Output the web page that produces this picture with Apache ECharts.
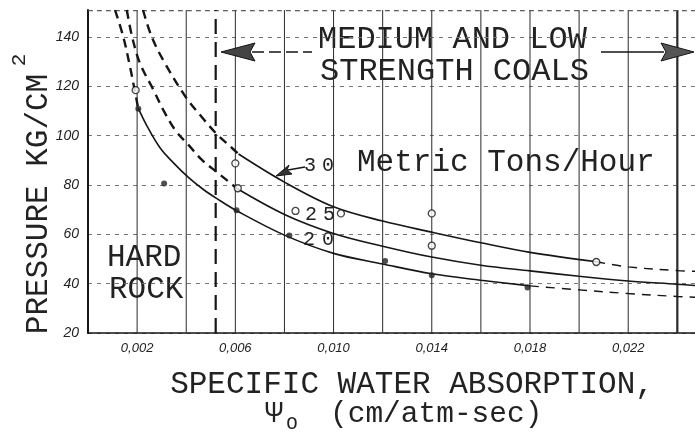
<!DOCTYPE html>
<html><head><meta charset="utf-8">
<script src="https://cdn.jsdelivr.net/npm/echarts@6/dist/echarts.min.js"></script>
<style>html,body{margin:0;padding:0;background:#fff}#c{width:695px;height:434px}</style>
</head><body><div id="c"></div>
<script>
// ---- axis ticks ----
const xGrid = [0.002, 0.004, 0.006, 0.008, 0.010, 0.012, 0.014, 0.016, 0.018, 0.020, 0.022, 0.024];
const xTicks = [0.002, 0.006, 0.010, 0.014, 0.018, 0.022];
const xTickLabels = ['0,002', '0,006', '0,010', '0,014', '0,018', '0,022'];
const yTicks = [20, 40, 60, 80, 100, 120, 140];

// ---- curve 20 t/h ----
const x20 = [0.00110,0.00144,0.00171,0.00192,0.00204,0.0024,0.00294,0.00348,0.0041,0.0047,0.00525,0.00607,0.008,0.010,0.012,0.014,0.016,0.018,0.020,0.022,0.024,0.0248];
const p20 = [151,140,128,117.5,111.3,104,95.0,89.0,83.0,78.2,74.5,69.5,59.7,52.3,48.0,44.0,41.4,39.1,37.5,36.0,34.8,34.5];
// ---- curve 25 t/h ----
const x25 = [0.00158,0.0018,0.00212,0.00267,0.00307,0.00355,0.0041,0.00464,0.00525,0.0058,0.00607,0.008,0.010,0.012,0.014,0.016,0.018,0.020,0.022,0.024,0.0248];
const p25 = [151,140,129.3,118.5,110.4,102.3,96.2,90.2,85.2,80.8,78.6,68.1,60.4,55.2,50.8,47.5,45.2,43.0,41.1,39.8,39.2];
// ---- curve 30 t/h ----
const x30 = [0.00224,0.0026,0.0031,0.00396,0.0047,0.00525,0.0058,0.00613,0.008,0.010,0.012,0.014,0.016,0.018,0.0207,0.022,0.024,0.0248];
const p30 = [151,140,130,116,106.8,100.6,95.6,92.6,81.2,71.2,65.4,60.9,56.6,52.7,48.9,46.8,45.3,45];

// ---- experimental points ----
const openX = [0.00194, 0.0060, 0.0061, 0.00845, 0.0103, 0.0140, 0.0140, 0.0207];
const openP = [118.5, 88.8, 78.7, 69.5, 68.5, 68.5, 55.4, 48.8];
const dotX = [0.00205, 0.0031, 0.00605, 0.0082, 0.0121, 0.0140, 0.0179];
const dotP = [111, 80.6, 69.8, 59.5, 49.2, 43.4, 38.5];

const dividerX = 0.0052;   // hard rock / coals boundary
const heavyGridX = 0.024;
const topBorderY = 150.7;
const X_MIN = 0, X_MAX = 0.02472;
const Y_MIN = 20, Y_MAX = 151;

const INK = '#161616';
const MONO = '"Liberation Mono", "DejaVu Sans Mono", monospace';

function pts(xs, ps, a, b) { const o = []; for (let i = a; i <= b; i++) o.push([xs[i], ps[i]]); return o; }
function seg(xs, ps, a, b, kind) {
  const ls = kind === 'solid' ? { color: INK, width: 1.6, type: 'solid' }
    : kind === 'heavy' ? { color: INK, width: 2.4, type: [9, 6] }
    : { color: INK, width: 1.4, type: [9, 7] };
  return { type: 'line', data: pts(xs, ps, a, b), smooth: 0.35, symbol: 'none', silent: true, lineStyle: ls, z: 3 };
}
function vline(x, style, z) {
  return { type: 'line', data: [[x, Y_MIN], [x, Y_MAX]], symbol: 'none', silent: true, lineStyle: style, z: z };
}

const series = [];
xGrid.forEach(x => series.push(vline(x, { color: '#2a2a2a', width: x === heavyGridX ? 2.2 : 1, type: 'solid' }, 1)));
series.push(vline(dividerX, { color: INK, width: 2.2, type: [15, 8] }, 2));
series.push({ type: 'line', data: [[X_MIN, topBorderY], [X_MAX, topBorderY]], symbol: 'none', silent: true, lineStyle: { color: '#555', width: 1.2, type: [5, 4] }, z: 1 });
series.push(
  seg(x20, p20, 0, 4, 'heavy'), seg(x20, p20, 4, 17, 'solid'), seg(x20, p20, 17, x20.length - 1, 'light'),
  seg(x25, p25, 0, 10, 'heavy'), seg(x25, p25, 10, x25.length - 1, 'solid'),
  seg(x30, p30, 0, 7, 'heavy'), seg(x30, p30, 7, 14, 'solid'), seg(x30, p30, 14, x30.length - 1, 'light'),
  { type: 'scatter', data: openX.map((x, i) => [x, openP[i]]), symbol: 'circle', symbolSize: 7, silent: true, z: 5,
    itemStyle: { color: '#fff', borderColor: INK, borderWidth: 1.3 } },
  { type: 'scatter', data: dotX.map((x, i) => [x, dotP[i]]), symbol: 'circle', symbolSize: 6, silent: true, z: 5,
    itemStyle: { color: '#222' } }
);

const chart = echarts.init(document.getElementById('c'), null, { renderer: 'canvas' });
chart.setOption({
  backgroundColor: '#fff',
  animation: false,
  grid: { left: 88, right: 0, top: 10, bottom: 101, containLabel: false },
  xAxis: {
    type: 'value', min: X_MIN, max: X_MAX,
    axisLine: { show: true, onZero: false, lineStyle: { color: INK, width: 1.6 } },
    axisTick: { show: false },
    axisLabel: {
      customValues: xTicks, hideOverlap: false,
      margin: 9, color: '#222', fontStyle: 'italic', fontFamily: '"Liberation Sans", sans-serif', fontSize: 13,
      formatter: v => { const i = xTicks.findIndex(t => Math.abs(t - v) < 1e-7); return i >= 0 ? xTickLabels[i] : ''; }
    },
    splitLine: { show: false }
  },
  yAxis: {
    type: 'value', min: Y_MIN, max: Y_MAX, interval: 20,
    axisLine: { show: true, lineStyle: { color: INK, width: 2 } },
    axisTick: { show: false },
    axisLabel: {
      margin: 9, color: '#222', fontStyle: 'italic', fontFamily: '"Liberation Sans", sans-serif', fontSize: 14,
      formatter: v => yTicks.includes(v) ? String(v) : ''
    },
    splitLine: { show: true, lineStyle: { color: '#777', width: 1, type: [4, 5] } }
  },
  series: series,
  graphic: [
    { type: 'text', x: 39, y: 204, rotation: Math.PI / 2, style: { text: 'PRESSURE KG/CM', font: '31px ' + MONO, fill: '#222', align: 'center', verticalAlign: 'middle' } },
    { type: 'text', x: 19, y: 60, rotation: Math.PI / 2, style: { text: '2', font: '21px ' + MONO, fill: '#222', align: 'center', verticalAlign: 'middle' } },
    { type: 'text', x: 412, y: 385, style: { text: 'SPECIFIC WATER ABSORPTION,', font: '31px ' + MONO, fill: '#222', align: 'center', verticalAlign: 'middle' } },
    { type: 'text', x: 274, y: 414, style: { text: 'Ψ', font: '30px ' + MONO, fill: '#222', align: 'center', verticalAlign: 'middle' } },
    { type: 'text', x: 292, y: 424, style: { text: 'O', font: '19px ' + MONO, fill: '#222', align: 'center', verticalAlign: 'middle' } },
    { type: 'text', x: 330, y: 414, style: { text: '(cm/atm-sec)', font: '29.5px ' + MONO, fill: '#222', align: 'left', verticalAlign: 'middle' } },
    { type: 'text', x: 318, y: 40, style: { text: 'MEDIUM AND LOW', font: '32px ' + MONO, fill: '#222', align: 'left', verticalAlign: 'middle' } },
    { type: 'text', x: 320, y: 72, style: { text: 'STRENGTH COALS', font: '32px ' + MONO, fill: '#222', align: 'left', verticalAlign: 'middle' } },
    { type: 'text', x: 357, y: 163, style: { text: 'Metric Tons/Hour', font: '31px ' + MONO, fill: '#222', align: 'left', verticalAlign: 'middle' } },
    { type: 'text', x: 107, y: 258, style: { text: 'HARD', font: '31px ' + MONO, fill: '#222', align: 'left', verticalAlign: 'middle' } },
    { type: 'text', x: 109, y: 290, style: { text: 'ROCK', font: '31px ' + MONO, fill: '#222', align: 'left', verticalAlign: 'middle' } },
    { type: 'text', x: 310, y: 166, style: { text: '3', font: '20px ' + MONO, fill: '#222', align: 'center', verticalAlign: 'middle' } },
    { type: 'text', x: 328, y: 166, style: { text: '0', font: '20px ' + MONO, fill: '#222', align: 'center', verticalAlign: 'middle' } },
    { type: 'text', x: 311, y: 215, style: { text: '2', font: '20px ' + MONO, fill: '#222', align: 'center', verticalAlign: 'middle' } },
    { type: 'text', x: 329, y: 215, style: { text: '5', font: '20px ' + MONO, fill: '#222', align: 'center', verticalAlign: 'middle' } },
    { type: 'text', x: 309, y: 240, style: { text: '2', font: '20px ' + MONO, fill: '#222', align: 'center', verticalAlign: 'middle' } },
    { type: 'text', x: 328, y: 240, style: { text: '0', font: '20px ' + MONO, fill: '#222', align: 'center', verticalAlign: 'middle' } },
    // arrows
    { type: 'line', shape: { x1: 252, y1: 52, x2: 312, y2: 52 }, style: { stroke: INK, lineWidth: 1.5, lineDash: [12, 5] }, z: 10 },
    { type: 'polygon', shape: { points: [[221, 52], [255, 43], [250, 52], [255, 61]] }, style: { fill: '#444', stroke: INK, lineWidth: 1 }, z: 10 },
    { type: 'line', shape: { x1: 601, y1: 52, x2: 664, y2: 52 }, style: { stroke: INK, lineWidth: 1.5 }, z: 10 },
    { type: 'polygon', shape: { points: [[694, 52], [661, 43], [666, 52], [661, 61]] }, style: { fill: '#555', stroke: INK, lineWidth: 1 }, z: 10 },
    { type: 'line', shape: { x1: 288, y1: 170, x2: 305, y2: 167 }, style: { stroke: INK, lineWidth: 1.5 }, z: 10 },
    { type: 'polygon', shape: { points: [[276, 176], [289, 165], [287, 170], [292, 174]] }, style: { fill: '#333', stroke: INK, lineWidth: 1 }, z: 10 }
  ]
});
</script>
</body></html>
